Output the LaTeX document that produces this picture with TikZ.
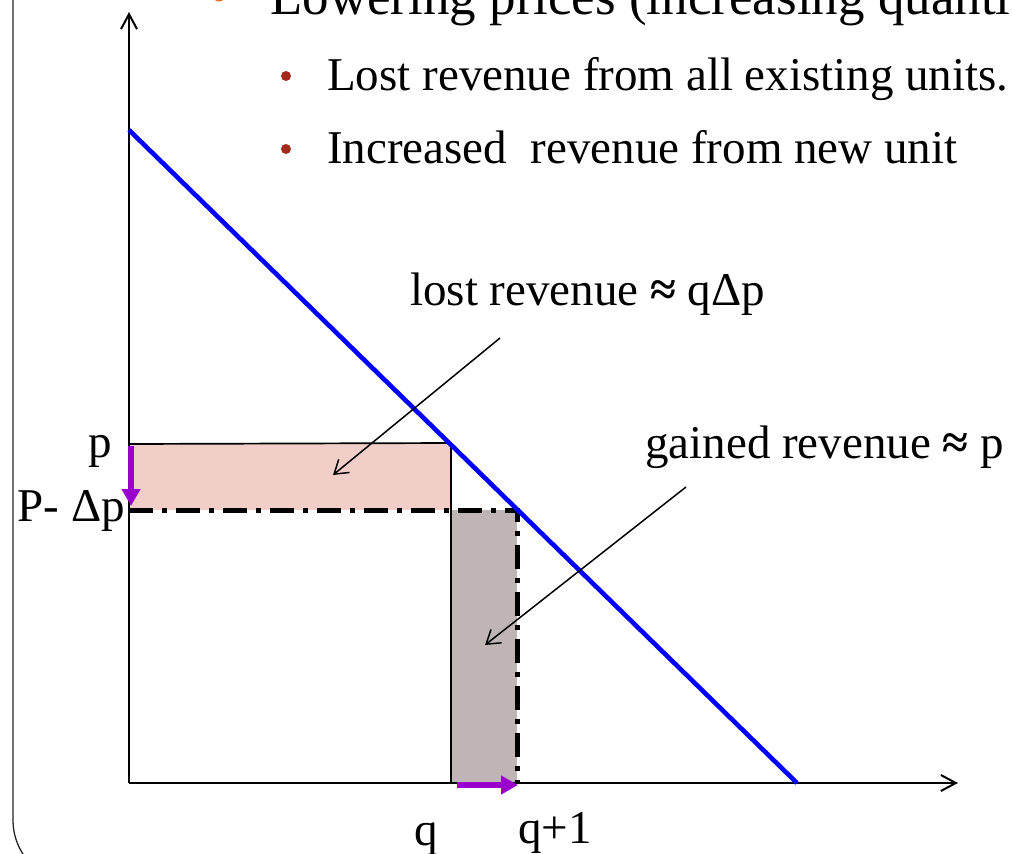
\documentclass[tikz,border=0pt]{standalone}
\usepackage{fontspec}
\setmainfont{Liberation Serif}
\usetikzlibrary{arrows.meta}
\definecolor{pinkfill}{RGB}{242,206,200}
\definecolor{greyfill}{RGB}{191,181,181}
\definecolor{demandblue}{RGB}{0,0,255}
\definecolor{arrowpurple}{RGB}{153,0,204}
\definecolor{bulletred}{RGB}{165,42,30}
\definecolor{bulletorange}{RGB}{230,110,40}
\tikzset{
  txt/.style={inner sep=0pt, font=\fontsize{47}{51}\selectfont},
  axisline/.style={line width=2pt, -{Straight Barb[length=15pt,width=16pt,line width=2pt]}},
  pointer/.style={line width=1.5pt, -{Straight Barb[length=13pt,width=17pt,line width=1.5pt]}},
  shift arrow/.style={arrowpurple, line width=5.5pt, -{Triangle[length=17pt,width=18pt]}},
  dashdotline/.style={line width=5pt, dash pattern=on 24pt off 9pt on 5pt off 9pt},
  bulletdot/.style={circle, fill=bulletred, inner sep=0pt, minimum size=10pt},
}
\begin{document}
\begin{tikzpicture}[x=1pt,y=-1pt]
\useasboundingbox (0,0) rectangle (1012,854);
\clip (0,0) rectangle (1012,854);
\fill[white] (0,0) rectangle (1012,854);

% slide frame
\draw[line width=1.3pt, black!85, rounded corners=63pt] (13,-10) -- (13,883) -- (300,883);

% top text (clipped by the slide edge, as in the reference)
\node[circle, fill=bulletorange, inner sep=0pt, minimum size=13pt] (b0) at (219,-5) {};
\node[inner sep=0pt, anchor=base west, font=\fontsize{53}{57}\selectfont] (title) at (270,14) {Lowering prices (increasing quantity)};

% bullets
\node[bulletdot] (b1) at (286,76) {};
\node[txt, anchor=base west] (t1) at (327,90) {Lost revenue from all existing units.};
\node[bulletdot] (b2) at (286,149) {};
\node[txt, anchor=base west] (t2) at (327,163) {Increased\ \ revenue from new unit};

% coordinates
\coordinate (O) at (129,783);
\coordinate (ytop) at (129,12);
\coordinate (xend) at (958,783);
\coordinate (dA) at (129,130);
\coordinate (dB) at (797,783);
\coordinate (pL) at (129,444);
\coordinate (pR) at (451,443);
\coordinate (qB) at (451,783);
\coordinate (dpL) at (129,510);
\coordinate (dpR) at (517,510);
\coordinate (q1B) at (517,783);

% areas
\fill[pinkfill] (pL) rectangle (451,510);
\fill[greyfill] (451,510) rectangle (q1B);
\draw[line width=1.7pt] (pL) -- (pR) -- (qB);
\draw[dashdotline] (dpL) -- (dpR) -- (q1B);

% axes
\draw[axisline] (O) -- (ytop);
\draw[axisline] (O) -- (xend);

% demand
\draw[demandblue, line width=4.6pt] (dA) -- (dB);

% shift arrows
\coordinate (vs) at (131,446);
\coordinate (ve) at (131,506);
\coordinate (hs) at (457,785);
\coordinate (he) at (518,785);
\draw[shift arrow] (vs) -- (ve);
\draw[shift arrow] (hs) -- (he);

% axis labels
\node[txt, anchor=base] (plab) at (100,457) {p};
\node[txt, anchor=base east] (dplab) at (125,521) {P- Δp};
\node[txt, anchor=base] (qlab) at (426,845) {q};
\node[txt, anchor=base west] (q1lab) at (518,843) {q+1};

% annotations
\node[txt, anchor=base west] (lost) at (410,305) {lost revenue \textbf{≈} qΔp};
\node[txt, anchor=base west] (gain) at (645,458) {gained revenue \textbf{≈} p};
\coordinate (lostS) at (500,338);
\coordinate (lostE) at (333,475);
\coordinate (gainS) at (686,487);
\coordinate (gainE) at (485,645);
\draw[pointer] (lostS) -- (lostE);
\draw[pointer] (gainS) -- (gainE);
\end{tikzpicture}
\end{document}
